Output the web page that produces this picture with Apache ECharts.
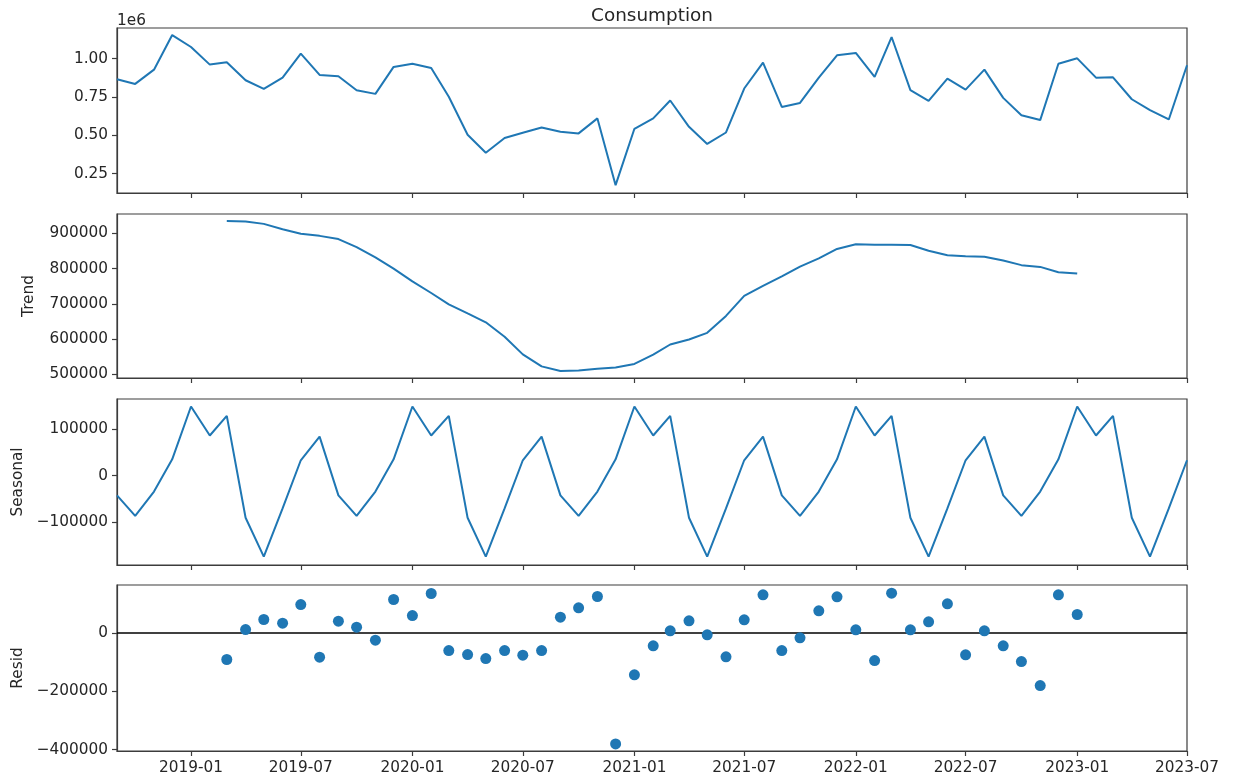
<!DOCTYPE html>
<html>
<head>
<meta charset="utf-8">
<script src="https://cdn.jsdelivr.net/npm/echarts@6/dist/echarts.min.js"></script>
<style>
html,body{margin:0;padding:0;background:#fff;}
#chart{width:1234px;height:777px;}
</style>
</head>
<body>
<div id="chart"></div>
<script>
// ---------------- data ----------------
const startYear = 2018, startMonthIndex = 8; // 2018-09
const consumption = [
  866000, 835000, 928000, 1154000,
  1076000, 961000, 976000, 859000, 803000, 876000, 1033000, 894000, 885000, 794000, 770000, 946000,
  967000, 939000, 751000, 503000, 386000, 482000, 516000, 551000, 523000, 512000, 610000, 174000,
  542000, 610000, 727000, 555000, 443000, 518000, 805000, 974000, 685000, 711000, 876000, 1022000,
  1037000, 881000, 1141000, 794000, 725000, 870000, 798000, 928000, 744000, 631000, 599000, 967000,
  1002000, 876000, 878000, 735000, 664000, 603000, 957000
];
const trend = [
  null, null, null, null,
  null, null, 935000, 934000, 927000, 912000, 899000, 893000, 884000, 861000, 832000, 800000,
  764000, 731000, 699000, 673000, 648000, 607000, 557000, 523000, 510000, 511000, 516000, 520000,
  530000, 556000, 585000, 599000, 618000, 666000, 723000, 751000, 778000, 806000, 829000, 856000,
  869000, 868000, 868000, 867000, 851000, 838000, 835000, 834000, 823000, 810000, 805000, 790000,
  786000, null, null, null, null, null, null
];
const seasonal = [
  -42000, -86000, -34000, 35000,
  148000, 86000, 128000, -90000, -173000, -70000, 33000, 83500, -42000, -86000, -34000, 35000,
  148000, 86000, 128000, -90000, -173000, -70000, 33000, 83500, -42000, -86000, -34000, 35000,
  148000, 86000, 128000, -90000, -173000, -70000, 33000, 83500, -42000, -86000, -34000, 35000,
  148000, 86000, 128000, -90000, -173000, -70000, 33000, 83500, -42000, -86000, -34000, 35000,
  148000, 86000, 128000, -90000, -173000, -70000, 33000
];
const resid = [
  null, null, null, null,
  null, null, -91400, 11400, 45700, 33100, 97100, -83400, 40000, 19400, -25100, 114300,
  59400, 134900, -60600, -74300, -88000, -60600, -76600, -60600, 53700, 85700, 124600, -380600,
  -144000, -44600, 6900, 41100, -6900, -82300, 44600, 130300, -60600, -17100, 75400, 123400,
  10300, -94900, 136000, 10300, 37700, 99400, -75400, 6900, -44600, -98300, -180600, 130300,
  62900, null, null, null, null, null, null
];
const xTickLabels = ['2019-01','2019-07','2020-01','2020-07','2021-01','2021-07','2022-01','2022-07','2023-01','2023-07'];
const consumptionTicks = [250000, 500000, 750000, 1000000];
const trendTicks = [500000, 600000, 700000, 800000, 900000];
const seasonalTicks = [-100000, 0, 100000];
const residTicks = [-400000, -200000, 0];
const panelNames = ['Trend', 'Seasonal', 'Resid'];
const titleText = 'Consumption';

// ---------------- helpers ----------------
function monthDate(i) {
  return new Date(startYear, startMonthIndex + i, 1);
}
function pairs(arr) {
  return arr.map((v, i) => [monthDate(i).getTime(), v]);
}
function parseYM(s) {
  const [y, m] = s.split('-').map(Number);
  return new Date(y, m - 1, 1).getTime();
}
const xTickValues = xTickLabels.map(parseYM);
const xMin = monthDate(0).getTime();
const xMax = monthDate(consumption.length - 1).getTime();
const minus = v => String(v).replace('-', '\u2212');
const ym = v => { const d = new Date(v); return d.getFullYear() + '-' + String(d.getMonth() + 1).padStart(2, '0'); };

const FONT = 'DejaVu Sans';
const FS = 15.3;
const TXT = '#262626';
const FRAME = '#3c3c3c';
const BLUE = '#1f77b4';

const grids = [
  { top: 28, height: 165 },
  { top: 214, height: 164 },
  { top: 399, height: 166 },
  { top: 585, height: 166 }
].map(g => Object.assign({ left: 117, right: 47, show: true, borderColor: FRAME, borderWidth: 1.2, backgroundColor: 'transparent' }, g));

const yRanges = [
  { min: 123000, max: 1200000, ticks: consumptionTicks, fmt: v => (v / 1e6).toFixed(2) },
  { min: 490000, max: 955000, ticks: trendTicks, fmt: v => String(v) },
  { min: -191000, max: 164000, ticks: seasonalTicks, fmt: minus },
  { min: -405000, max: 164000, ticks: residTicks, fmt: minus }
];

const xAxes = grids.map((g, i) => ({
  type: 'value', gridIndex: i, min: xMin, max: xMax,
  axisLine: { show: true, onZero: false, lineStyle: { color: FRAME, width: 1.2 } },
  axisTick: { show: true, inside: false, length: 5, customValues: xTickValues, lineStyle: { color: FRAME, width: 1.2 } },
  axisLabel: {
    show: i === 3, customValues: xTickValues, fontFamily: FONT, fontSize: FS, color: TXT, margin: 10,
    formatter: ym
  },
  splitLine: { show: false }
}));

const yAxes = yRanges.map((r, i) => ({
  type: 'value', gridIndex: i, min: r.min, max: r.max,
  axisLine: { show: true, onZero: false, lineStyle: { color: FRAME, width: 1.2 } },
  axisTick: { show: true, inside: false, length: 5, customValues: r.ticks, lineStyle: { color: FRAME, width: 1.2 } },
  axisLabel: { customValues: r.ticks, fontFamily: FONT, fontSize: FS, color: TXT, margin: 9, formatter: r.fmt },
  splitLine: { show: false }
}));

const lineStyle = { color: BLUE, width: 2 };

const option = {
  animation: false,
  backgroundColor: '#fff',
  grid: grids,
  xAxis: xAxes,
  yAxis: yAxes,
  series: [
    { type: 'line', xAxisIndex: 0, yAxisIndex: 0, data: pairs(consumption), showSymbol: false, lineStyle, itemStyle: { color: BLUE } },
    { type: 'line', xAxisIndex: 1, yAxisIndex: 1, data: pairs(trend), showSymbol: false, lineStyle, itemStyle: { color: BLUE } },
    { type: 'line', xAxisIndex: 2, yAxisIndex: 2, data: pairs(seasonal), showSymbol: false, lineStyle, itemStyle: { color: BLUE } },
    {
      type: 'scatter', xAxisIndex: 3, yAxisIndex: 3, data: pairs(resid).filter(p => p[1] !== null),
      symbolSize: 11, itemStyle: { color: BLUE, opacity: 1 }, z: 3,
      markLine: {
        silent: true, symbol: 'none', z: 2,
        label: { show: false },
        lineStyle: { color: '#000', width: 1.5, type: 'solid' },
        data: [{ yAxis: 0 }]
      }
    }
  ],
  graphic: [
    { type: 'text', x: 652, y: 16, style: { text: titleText, font: '18.4px "DejaVu Sans"', fill: TXT, align: 'center', verticalAlign: 'middle' } },
    { type: 'text', x: 117, y: 21, style: { text: '1e6', font: '15.3px "DejaVu Sans"', fill: TXT, align: 'left', verticalAlign: 'middle' } },
    { type: 'text', x: 29, y: 296, rotation: Math.PI / 2, style: { text: panelNames[0], font: '15.3px "DejaVu Sans"', fill: TXT, align: 'center', verticalAlign: 'middle' } },
    { type: 'text', x: 18, y: 482, rotation: Math.PI / 2, style: { text: panelNames[1], font: '15.3px "DejaVu Sans"', fill: TXT, align: 'center', verticalAlign: 'middle' } },
    { type: 'text', x: 18, y: 668, rotation: Math.PI / 2, style: { text: panelNames[2], font: '15.3px "DejaVu Sans"', fill: TXT, align: 'center', verticalAlign: 'middle' } }
  ]
};

const chart = echarts.init(document.getElementById('chart'), null, { renderer: 'canvas' });
chart.setOption(option);
</script>
</body>
</html>
